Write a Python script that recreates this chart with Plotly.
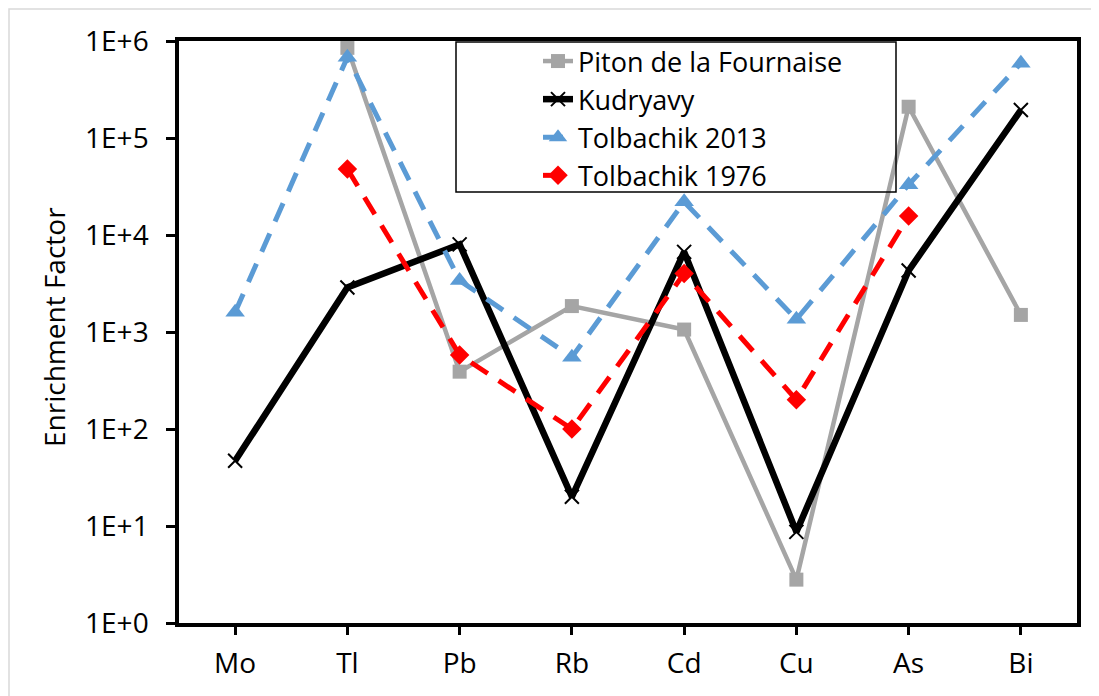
import plotly.graph_objects as go

elements = ["Mo", "Tl", "Pb", "Rb", "Cd", "Cu", "As", "Bi"]
piton = [None, 850000, 390, 1850, 1060, 2.8, 210000, 1500]
kudryavy = [47, 2880, 8000, 20, 6700, 8.7, 4300, 194000]
tolb2013 = [1600, 680000, 3400, 550, 22000, 1350, 33000, 590000]
tolb1976 = [None, 48000, 580, 100, 4000, 200, 15700, None]
ytick_vals = [1, 10, 100, 1000, 10000, 100000, 1000000]
ytick_text = ["1E+0", "1E+1", "1E+2", "1E+3", "1E+4", "1E+5", "1E+6"]

FONT = "Open Sans"

fig = go.Figure()
fig.add_trace(go.Scatter(
    x=elements, y=piton, name="Piton de la Fournaise", mode="lines+markers",
    line=dict(color="#A5A5A5", width=4.5),
    marker=dict(symbol="square", size=14, color="#A5A5A5"),
    connectgaps=False))
fig.add_trace(go.Scatter(
    x=elements, y=kudryavy, name="Kudryavy", mode="lines+markers",
    line=dict(color="black", width=6.5),
    marker=dict(symbol="x-thin", size=14, color="black",
                line=dict(color="black", width=2))))
fig.add_trace(go.Scatter(
    x=elements, y=tolb2013, name="Tolbachik 2013", mode="lines+markers",
    line=dict(color="#5B9BD5", width=5, dash="20px,13px"),
    marker=dict(symbol="triangle-up", size=17, color="#5B9BD5")))
fig.add_trace(go.Scatter(
    x=elements, y=tolb1976, name="Tolbachik 1976", mode="lines+markers",
    line=dict(color="#FF0000", width=5, dash="20px,13px"),
    marker=dict(symbol="diamond", size=15, color="#FF0000")))

# screen-space plot area (page body has an 8px margin)
OFF = 8
L, R, T, B = 179, 1077, 41, 623
W, H = 1099 - OFF, 696 - OFF
pw, ph = R - L, B - T

def px_x(x):
    return (x - L) / pw

def px_y(y):
    return (B - y) / ph

fig.update_layout(
    width=W, height=H,
    margin=dict(l=L - OFF, r=W - (R - OFF), t=T - OFF, b=H - (B - OFF)),
    paper_bgcolor="white", plot_bgcolor="white",
    font=dict(family=FONT, size=28, color="black"),
    showlegend=True,
    legend=dict(
        x=px_x(538), y=px_y(37), xanchor="left", yanchor="top",
        bgcolor="rgba(0,0,0,0)", borderwidth=0,
        font=dict(family=FONT, size=27, color="black"),
        itemwidth=30, tracegroupgap=0,
    ),
    xaxis=dict(
        type="category", range=[-0.5, 7.5],
        showline=True, linecolor="black", linewidth=3.5, mirror=True,
        ticks="outside", ticklen=8, tickwidth=3, tickcolor="black",
        showgrid=False, zeroline=False,
        ticklabelstandoff=5,
        tickfont=dict(family=FONT, size=28),
    ),
    yaxis=dict(
        type="log", range=[0, 6],
        tickvals=ytick_vals, ticktext=ytick_text,
        showline=True, linecolor="black", linewidth=3.5, mirror=True,
        ticks="outside", ticklen=9, tickwidth=3, tickcolor="black",
        showgrid=False, zeroline=False,
        ticklabelstandoff=12,
        tickfont=dict(family=FONT, size=28),
    ),
    shapes=[
        dict(type="rect", xref="paper", yref="paper",
             x0=px_x(456), x1=px_x(896), y0=px_y(192), y1=px_y(42),
             line=dict(color="black", width=1.5), fillcolor="rgba(0,0,0,0)",
             layer="above"),
        dict(type="rect", xref="paper", yref="paper",
             x0=px_x(9), x1=px_x(1120), y0=px_y(720), y1=px_y(9),
             line=dict(color="#D9D9D9", width=1.5), fillcolor="rgba(0,0,0,0)",
             layer="below"),
    ],
    annotations=[
        dict(text="Enrichment Factor", xref="paper", yref="paper",
             x=px_x(54), y=px_y(327), textangle=-90, showarrow=False,
             font=dict(family=FONT, size=28, color="black"),
             xanchor="center", yanchor="middle"),
    ],
)

fig.write_html("out.html")
